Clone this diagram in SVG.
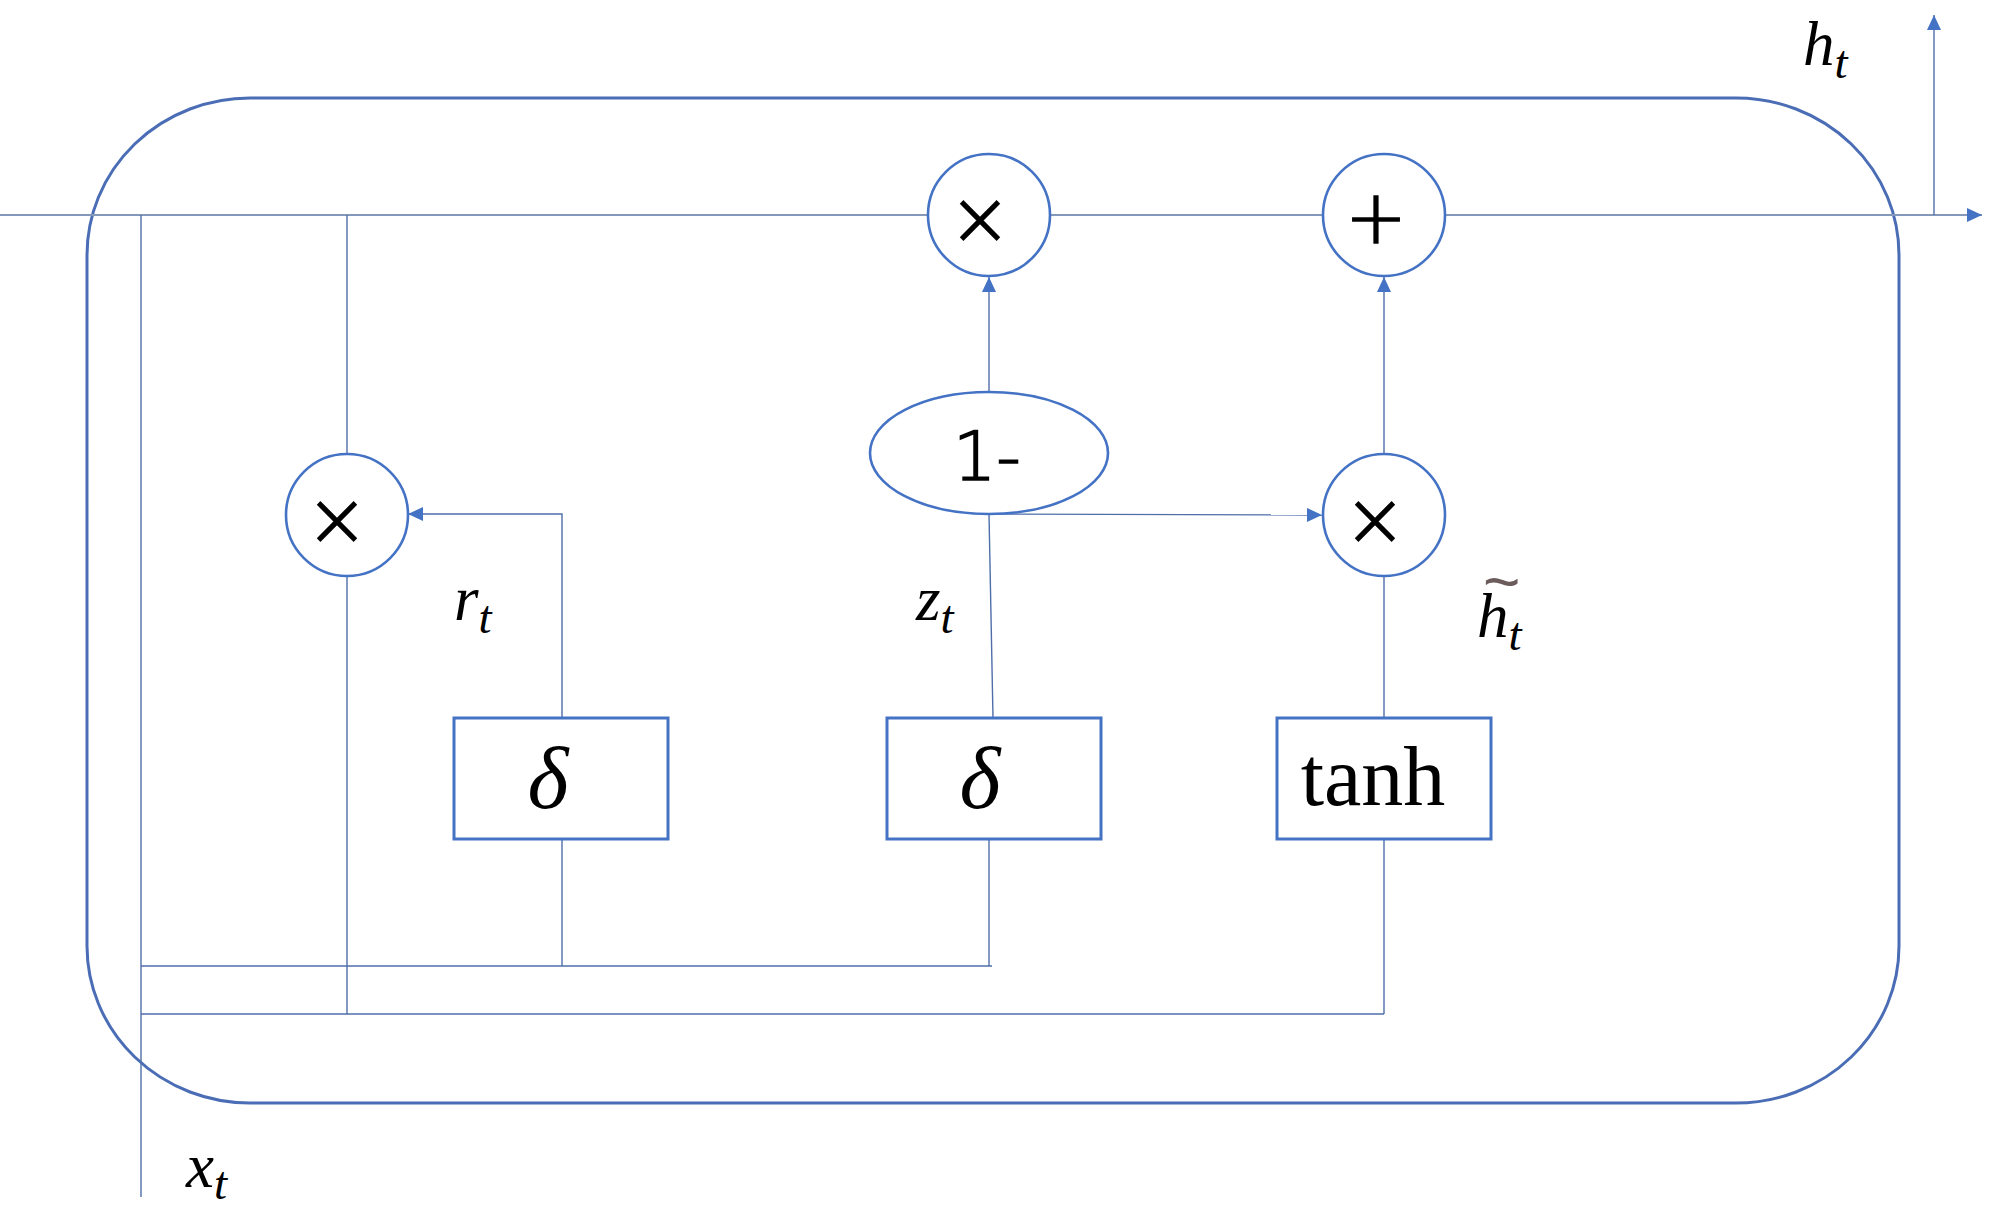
<svg xmlns="http://www.w3.org/2000/svg" width="1999" height="1212" viewBox="0 0 1999 1212">
<style>
.node{fill:#fff;stroke:#4472C4;stroke-width:2.6}
.box{fill:#fff;stroke:#4472C4;stroke-width:3}
.frame{fill:none;stroke:#4A6DB5;stroke-width:3}
.ln{fill:none;stroke:#4F6EAA;stroke-width:1.4}
.main{fill:none;stroke:#8499BA;stroke-width:2}
.op{font-family:"DejaVu Sans","Liberation Sans",sans-serif;font-weight:200;fill:#000;stroke:#000;stroke-width:1.6;text-anchor:middle}
.times{font-size:74px}
.plus{font-size:74px}
.one{font-family:"DejaVu Sans","Liberation Sans",sans-serif;font-weight:200;font-size:68px;fill:#000;stroke:#000;stroke-width:1.6;text-anchor:middle}
.var{font-family:"Liberation Serif","DejaVu Serif",serif;font-style:italic;fill:#000}
.big{font-size:63px}
.sub{font-size:47px}
.fn{font-family:"Liberation Serif","DejaVu Serif",serif;fill:#000}
.tilde{font-family:"Liberation Sans","DejaVu Sans",sans-serif;font-style:normal;font-size:64px;fill:#6B5B5B}
</style>
<defs>
<marker id="arr" markerUnits="userSpaceOnUse" markerWidth="16" markerHeight="14" refX="15" refY="7" orient="auto">
<path d="M0,0 L15,7 L0,14 Z" fill="#4472C4"/>
</marker>
</defs>

<g id="cell-frame">
<rect class="frame" x="87" y="98" width="1812" height="1005" rx="163" ry="157"/>
</g>

<g id="connectors">
<path class="main" d="M0,215 L928,215 M1050,215 L1323,215 M1445,215 L1932,215"/>
<path class="main" d="M1932,215 L1982,215" marker-end="url(#arr)"/>
<path class="ln" d="M1934,215 L1934,15" marker-end="url(#arr)"/>
<path class="ln" d="M141,215 L141,1197"/>
<path class="ln" d="M141,966 L992,966"/>
<path class="ln" d="M141,1014 L1384,1014"/>
<path class="ln" d="M347,215 L347,454"/>
<path class="ln" d="M347,576 L347,1014"/>
<path class="ln" d="M562,718 L562,514 L408,514" marker-end="url(#arr)"/>
<path class="ln" d="M562,839 L562,966"/>
<path class="ln" d="M989,839 L989,966"/>
<path class="ln" d="M993,718 L989,514"/>
<path class="ln" d="M989,514 L1322,515" marker-end="url(#arr)"/>
<path class="ln" d="M989,392 L989,277" marker-end="url(#arr)"/>
<path class="ln" d="M1384,718 L1384,576"/>
<path class="ln" d="M1384,839 L1384,1014"/>
<path class="ln" d="M1384,454 L1384,277" marker-end="url(#arr)"/>
</g>

<g id="mul-top">
<circle class="node" cx="989" cy="215" r="61"/>
<text class="op times" x="980" y="244">×</text>
</g>
<g id="add-top">
<circle class="node" cx="1384" cy="215" r="61"/>
<text class="op plus" x="1376" y="243">+</text>
</g>
<g id="mul-left">
<circle class="node" cx="347" cy="515" r="61"/>
<text class="op times" x="337" y="545">×</text>
</g>
<g id="mul-right">
<circle class="node" cx="1384" cy="515" r="61"/>
<text class="op times" x="1375" y="545">×</text>
</g>
<g id="one-minus">
<ellipse class="node" cx="989" cy="453" rx="119" ry="61"/>
<text class="one" x="987" y="480">1-</text>
</g>
<g id="sigma-r">
<rect class="box" x="454" y="718" width="214" height="121"/>
<text class="var" x="548" y="808" font-size="88" text-anchor="middle">δ</text>
</g>
<g id="sigma-z">
<rect class="box" x="887" y="718" width="214" height="121"/>
<text class="var" x="980" y="808" font-size="88" text-anchor="middle">δ</text>
</g>
<g id="tanh">
<rect class="box" x="1277" y="718" width="214" height="121"/>
<text class="fn" x="1373" y="805" font-size="84" text-anchor="middle">tanh</text>
</g>

<g id="labels">
<text class="var big" x="1803" y="65">h<tspan class="sub" dy="13">t</tspan></text>
<text class="var big" x="454" y="620">r<tspan class="sub" dy="13">t</tspan></text>
<text class="var big" x="916" y="620">z<tspan class="sub" dy="13">t</tspan></text>
<text class="var big" x="1477" y="637">h<tspan class="sub" dy="13">t</tspan><tspan class="tilde" x="1483" y="604">~</tspan></text>
<text class="var big" x="186" y="1187">x<tspan class="sub" dy="12">t</tspan></text>
</g>
</svg>
